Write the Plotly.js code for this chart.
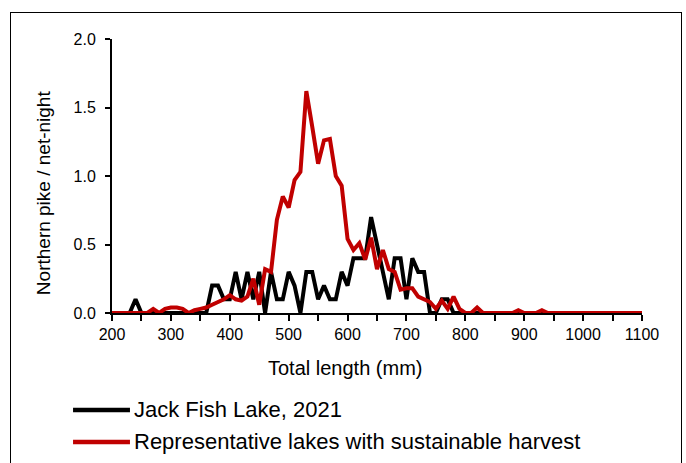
<!DOCTYPE html>
<html>
<head>
<meta charset="utf-8">
<script src="https://cdn.plot.ly/plotly-3.0.1.min.js"></script>
<style>
  html, body { margin:0; padding:0; background:#fff; width:686px; height:463px; overflow:hidden; }
  #chart { width:686px; height:463px; position:absolute; left:0; top:0; }
  #frame { position:absolute; left:10px; top:12px; width:670px; height:480px; border:1px solid #000; pointer-events:none; }
</style>
</head>
<body>
<div id="chart"></div>
<div id="frame"></div>
<script>
// Total length bins (mm)
const lengthBins = [200,210,220,230,240,250,260,270,280,290,300,310,320,330,340,350,360,370,380,390,
  400,410,420,430,440,450,460,470,480,490,500,510,520,530,540,550,560,570,580,590,
  600,610,620,630,640,650,660,670,680,690,700,710,720,730,740,750,760,770,780,790,
  800,810,820,830,840,850,860,870,880,890,900,910,920,930,940,950,960,970,980,990,
  1000,1010,1020,1030,1040,1050,1060,1070,1080,1090,1100];

// Jack Fish Lake, 2021 (northern pike / net-night)
const jackFish = [0,0,0,0,0.1,0,0,0,0,0,0,0,0,0,0,0,0,0.2,0.2,0.1,
  0.1,0.3,0.1,0.3,0.1,0.3,0,0.3,0.1,0.1,0.3,0.2,0,0.3,0.3,0.1,0.2,0.1,0.1,0.3,
  0.2,0.4,0.4,0.4,0.7,0.5,0.3,0.1,0.4,0.4,0.1,0.4,0.3,0.3,0,0,0.1,0.1,0,0,
  0,0,0,0,0,0,0,0,0,0,0,0,0,0,0,0,0,0,0,0,
  0,0,0,0,0,0,0,0,0,0,0];

// Representative lakes with sustainable harvest
const representative = [0,0,0,0,0,0,0,0.03,0,0.03,0.04,0.04,0.03,0,0.02,0.03,0.04,0.06,0.08,0.1,
  0.13,0.1,0.09,0.12,0.25,0.06,0.32,0.3,0.68,0.85,0.77,0.97,1.03,1.62,1.36,1.09,1.26,1.27,1.0,0.93,
  0.54,0.46,0.51,0.39,0.55,0.32,0.46,0.32,0.3,0.17,0.18,0.18,0.12,0.1,0.08,0.03,0.09,0.03,0.12,0.03,
  0,0,0.04,0,0,0,0,0,0,0.02,0,0,0,0.02,0,0,0,0,0,0,
  0,0,0,0,0,0,0,0,0,0,0];

const seriesNames = ['Jack Fish Lake, 2021', 'Representative lakes with sustainable harvest'];
const seriesColors = ['#000000', '#C00000'];

const xTickVals = [200,300,400,500,600,700,800,900,1000,1100];
const yTickVals = [0,0.5,1.0,1.5,2.0];
const xTitle = 'Total length (mm)';
const yTitle = 'Northern pike / net-night';

const FONT = 'Arial, "Liberation Sans", sans-serif';

const traces = seriesNames.map((nm, i) => ({
  x: lengthBins, y: i === 0 ? jackFish : representative, name: nm,
  type: 'scatter', mode: 'lines', line: { color: seriesColors[i], width: 4 },
  cliponaxis: false, showlegend: false
}));

// Legend drawn in paper coordinates (below the plot)
const legendRowsY = [-0.354, -0.4708];
const legendShapes = seriesNames.map((nm, i) => ({
  type: 'line', xref: 'paper', yref: 'paper', x0: -0.0735, x1: 0.0339,
  y0: legendRowsY[i], y1: legendRowsY[i], line: { color: seriesColors[i], width: 4.5 }
}));
const legendTexts = seriesNames.map((nm, i) => ({
  text: nm, xref: 'paper', yref: 'paper', x: 0.0375, y: legendRowsY[i],
  xanchor: 'left', yanchor: 'middle', showarrow: false,
  font: { size: 22, family: FONT, color: '#000' }
}));

const layout = {
  width: 686, height: 463,
  margin: { l: 112, r: 44, t: 39, b: 150, pad: 0 },
  paper_bgcolor: '#ffffff', plot_bgcolor: '#ffffff',
  font: { family: FONT, color: '#000', size: 16 },
  showlegend: false,
  xaxis: {
    range: [200, 1100], tickvals: xTickVals, ticktext: xTickVals.map(String),
    ticks: 'outside', ticklen: 6, tickwidth: 2, tickcolor: '#000',
    minor: { dtick: 50, tick0: 200, ticks: 'outside', ticklen: 6, tickwidth: 2, tickcolor: '#000', showgrid: false },
    showline: true, linecolor: '#000', linewidth: 2, showgrid: false, zeroline: false,
    layer: 'below traces', tickfont: { size: 16, family: FONT }
  },
  yaxis: {
    range: [0, 2], tickvals: yTickVals, tickformat: '.1f',
    ticks: 'outside', ticklen: 5, tickwidth: 2, tickcolor: '#000',
    showline: true, linecolor: '#000', linewidth: 2, showgrid: false, zeroline: false,
    layer: 'below traces', tickfont: { size: 16, family: FONT }, ticklabelstandoff: 6
  },
  shapes: legendShapes,
  annotations: [
    { text: xTitle, xref: 'paper', yref: 'paper', x: 0.441, y: -0.2, xanchor: 'center', yanchor: 'middle',
      showarrow: false, font: { size: 20, family: FONT, color: '#000' } },
    { text: yTitle, xref: 'paper', yref: 'paper', x: -0.128, y: 0.438, xanchor: 'center', yanchor: 'middle',
      textangle: -90, showarrow: false, font: { size: 19, family: FONT, color: '#000' } }
  ].concat(legendTexts)
};

Plotly.newPlot('chart', traces, layout, { staticPlot: true, displayModeBar: false });
</script>
</body>
</html>
